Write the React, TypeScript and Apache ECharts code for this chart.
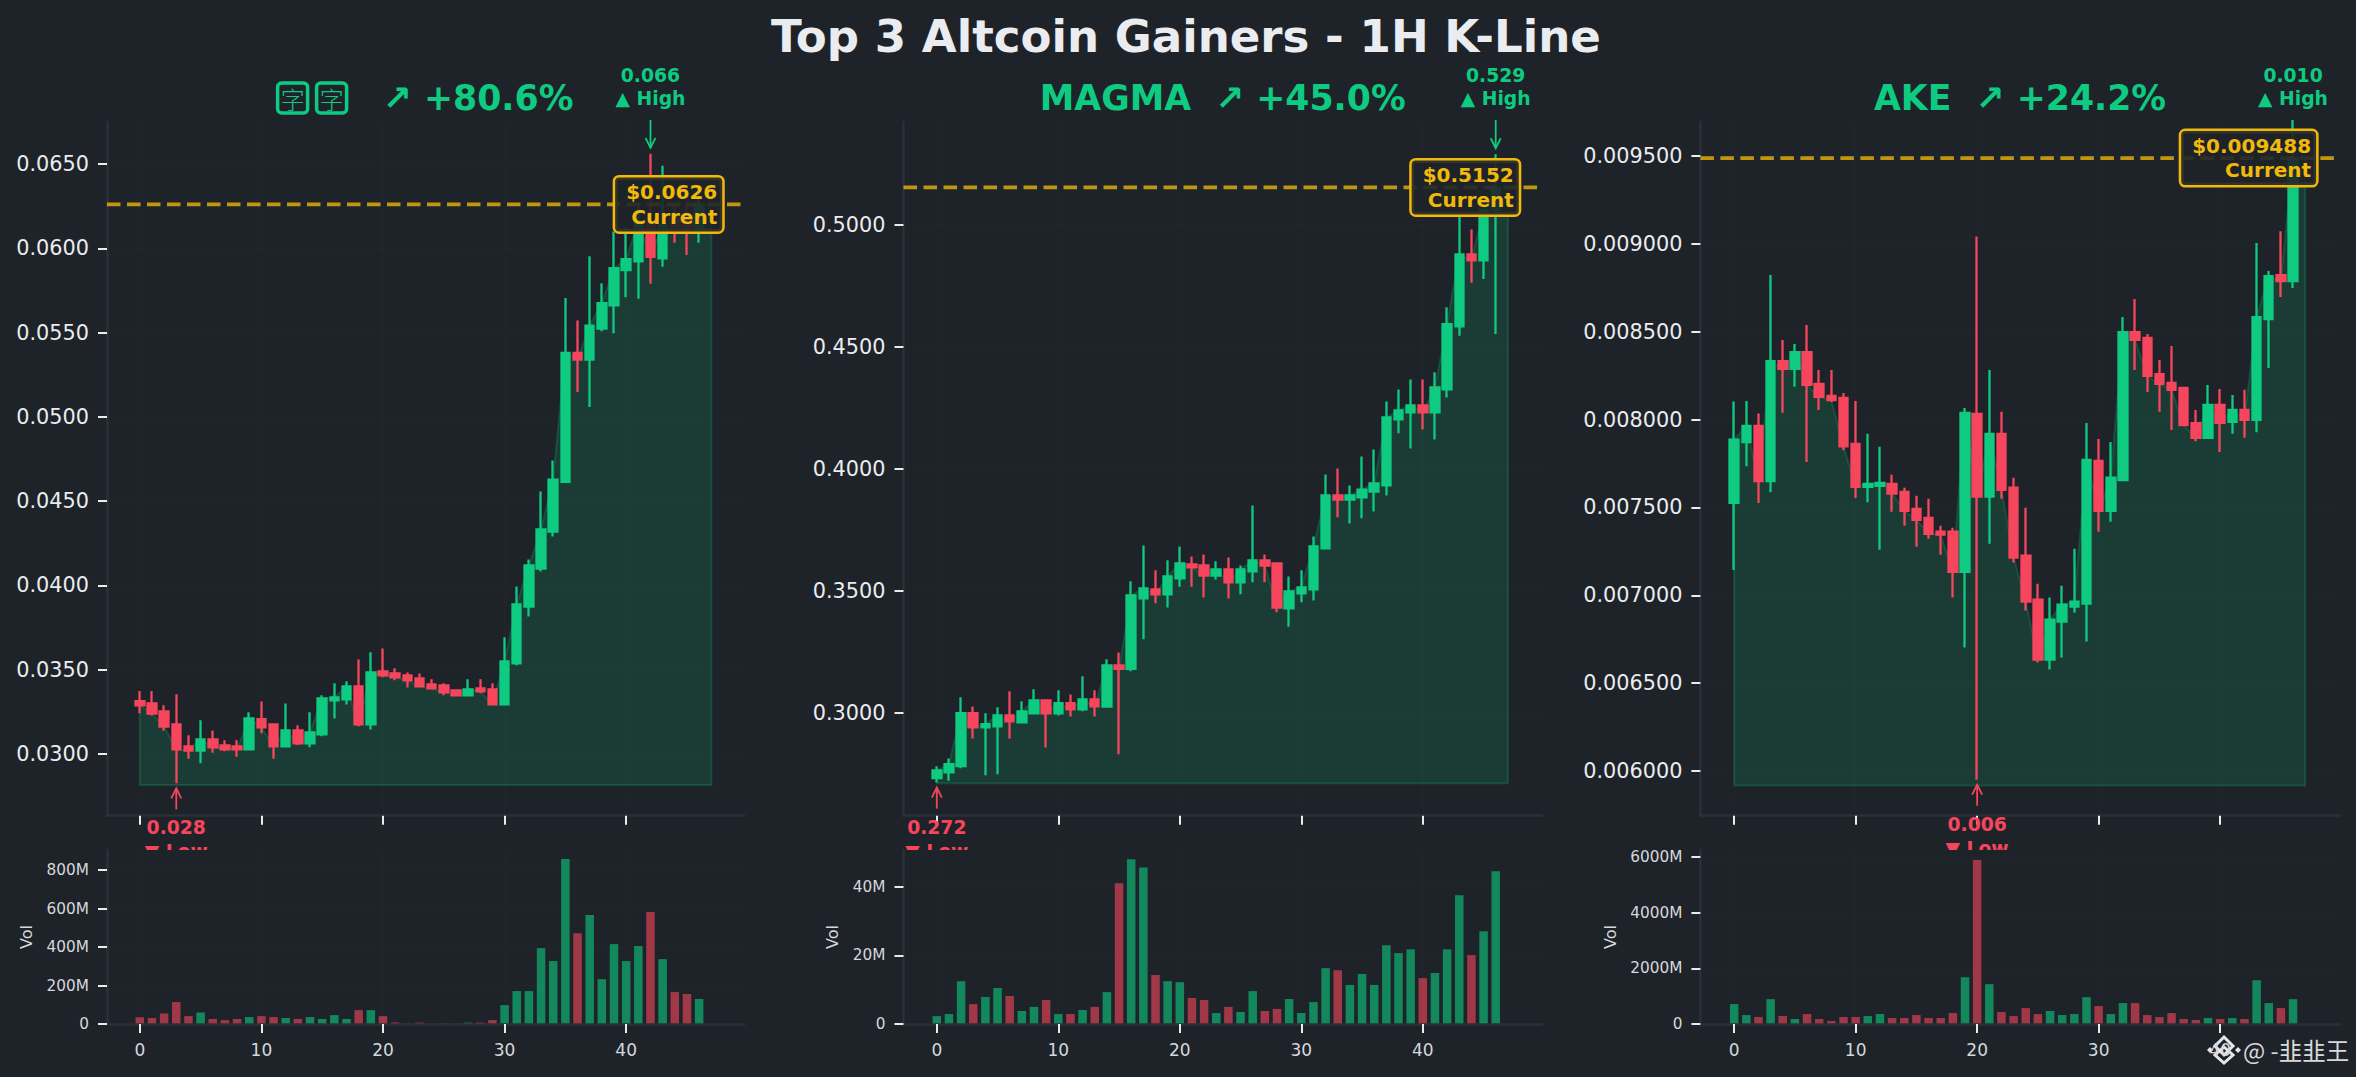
import React, { useEffect, useRef } from "react";
import * as echarts from "echarts";

const FONT = '"DejaVu Sans", "Noto Sans CJK SC", sans-serif';
const BG = "#1e2329";
const UP = "#0ecb81";
const DOWN = "#f6465d";
const GOLD = "#f0b90b";
const TEXT = "#eaecef";

const xTicks = [0, 10, 20, 30, 40];

// each candle: [open, close, low, high]
const candlesA = [
  [0.03314, 0.03289, 0.03241, 0.03374], [0.033, 0.03239, 0.03229, 0.03374], [0.03253, 0.03162, 0.03138, 0.03289],
  [0.03176, 0.03028, 0.02826, 0.03354], [0.03045, 0.0302, 0.02972, 0.03111], [0.0302, 0.03087, 0.02945, 0.032],
  [0.03087, 0.0304, 0.03008, 0.0314], [0.03051, 0.03028, 0.03016, 0.03081], [0.03045, 0.03028, 0.02984, 0.03081],
  [0.03028, 0.03211, 0.03028, 0.03247], [0.03206, 0.03158, 0.03123, 0.03312], [0.03176, 0.03045, 0.02972, 0.03176],
  [0.03045, 0.0314, 0.0304, 0.033], [0.0314, 0.03063, 0.03053, 0.0317], [0.03063, 0.03128, 0.0304, 0.03247],
  [0.03117, 0.0333, 0.03105, 0.03348], [0.03318, 0.03336, 0.03211, 0.03419], [0.03324, 0.03401, 0.03294, 0.03431],
  [0.03401, 0.03176, 0.03164, 0.03561], [0.03176, 0.03484, 0.03146, 0.03603], [0.0349, 0.03466, 0.03455, 0.03626],
  [0.03478, 0.03455, 0.03437, 0.03508], [0.03466, 0.03437, 0.03395, 0.03484], [0.03449, 0.03401, 0.03395, 0.03478],
  [0.03413, 0.03389, 0.03383, 0.03443], [0.03407, 0.03366, 0.03348, 0.03419], [0.03377, 0.03348, 0.03342, 0.03383],
  [0.03348, 0.03383, 0.03348, 0.03443], [0.03389, 0.03372, 0.0336, 0.03443], [0.03383, 0.03294, 0.03294, 0.03419],
  [0.03294, 0.03549, 0.03294, 0.03692], [0.03538, 0.03887, 0.03526, 0.03994], [0.03875, 0.04119, 0.03816, 0.04154],
  [0.041, 0.04332, 0.04083, 0.04557], [0.0432, 0.04628, 0.0429, 0.04741], [0.04615, 0.0538, 0.0461, 0.05705],
  [0.0538, 0.05339, 0.05148, 0.05571], [0.05339, 0.05541, 0.05059, 0.05953], [0.05524, 0.05675, 0.05508, 0.05793],
  [0.05661, 0.05882, 0.05496, 0.061], [0.0587, 0.05935, 0.05709, 0.06126], [0.05923, 0.0616, 0.057, 0.0625],
  [0.0615, 0.05949, 0.0579, 0.0656], [0.0594, 0.0614, 0.0589, 0.0649], [0.0618, 0.061, 0.06033, 0.0625],
  [0.0619, 0.061, 0.0596, 0.0628], [0.061, 0.0626, 0.06033, 0.0635],
];
const volumesA = [
  35, 31, 55, 114, 41, 60, 26, 20, 26, 36, 41, 36, 31, 26, 36, 26, 46, 26, 72, 72, 41, 8, 2, 7,
  2, 2, 2, 7, 7, 20, 98, 171, 171, 394, 327, 857, 472, 566, 233, 415, 327, 405, 582, 337, 166, 156, 130,
];

const candlesB = [
  [0.2733, 0.2765, 0.2715, 0.2782], [0.2757, 0.279, 0.2723, 0.2814], [0.2782, 0.2999, 0.2774, 0.3064],
  [0.2999, 0.2941, 0.2896, 0.3027], [0.2941, 0.2954, 0.2745, 0.2999], [0.2945, 0.299, 0.2749, 0.3023],
  [0.299, 0.2966, 0.2896, 0.3089], [0.2962, 0.3007, 0.2962, 0.3048], [0.2999, 0.3052, 0.2995, 0.3097],
  [0.3052, 0.2999, 0.2859, 0.3056], [0.2999, 0.304, 0.299, 0.3093], [0.304, 0.3015, 0.2986, 0.3076],
  [0.3015, 0.3056, 0.3007, 0.315], [0.3056, 0.3027, 0.2986, 0.3093], [0.3026, 0.3195, 0.3023, 0.322],
  [0.3195, 0.3181, 0.2831, 0.3248], [0.3181, 0.3482, 0.3171, 0.3539], [0.3469, 0.351, 0.3302, 0.3686],
  [0.3506, 0.3486, 0.3449, 0.3584], [0.3486, 0.3559, 0.3432, 0.3625], [0.3551, 0.3613, 0.3517, 0.3682],
  [0.3608, 0.3596, 0.3517, 0.3641], [0.3604, 0.3563, 0.3473, 0.3649], [0.3563, 0.3588, 0.3547, 0.3621],
  [0.3588, 0.3535, 0.3469, 0.3637], [0.3535, 0.3588, 0.3486, 0.3604], [0.358, 0.3625, 0.3535, 0.385],
  [0.3625, 0.3604, 0.3535, 0.3649], [0.3613, 0.3432, 0.3412, 0.3617], [0.3428, 0.3498, 0.3353, 0.3559],
  [0.349, 0.3514, 0.3453, 0.3584], [0.3506, 0.3682, 0.3461, 0.3723], [0.3674, 0.3891, 0.3674, 0.3977],
  [0.3891, 0.3874, 0.3801, 0.4001], [0.3874, 0.3891, 0.3776, 0.3932], [0.3883, 0.3915, 0.3797, 0.405],
  [0.3907, 0.394, 0.3825, 0.4079], [0.3932, 0.421, 0.3891, 0.4276], [0.4202, 0.4239, 0.4145, 0.4325],
  [0.4231, 0.426, 0.4083, 0.4366], [0.426, 0.4231, 0.4161, 0.4366], [0.4231, 0.4333, 0.412, 0.4395],
  [0.4325, 0.4592, 0.4292, 0.4661], [0.4583, 0.4878, 0.4545, 0.505], [0.4878, 0.4853, 0.4762, 0.498],
  [0.4853, 0.506, 0.4777, 0.509], [0.506, 0.5152, 0.4552, 0.5288],
];
const volumesB = [
  2.3, 2.9, 12.5, 5.8, 7.9, 10.5, 8.2, 3.8, 5, 7, 2.9, 2.9, 4.1, 5, 9.3, 41.1, 48.1, 45.7, 14.3, 12.5, 12.2, 7.6, 7, 3.2,
  5, 3.5, 9.6, 3.8, 4.4, 7.3, 3.2, 6.4, 16.3, 15.7, 11.4, 14.6, 11.4, 23, 20.7, 21.8, 13.4, 14.9, 21.8, 37.6, 20.1, 27.1, 44.6,
];

const candlesC = [
  [0.007526, 0.007886, 0.007144, 0.008102], [0.007871, 0.007964, 0.007735, 0.008106], [0.007964, 0.00765, 0.007525, 0.008034],
  [0.00765, 0.008333, 0.007587, 0.008822], [0.008333, 0.008288, 0.008038, 0.008453], [0.008288, 0.008384, 0.008186, 0.00843],
  [0.008384, 0.008197, 0.007759, 0.008538], [0.008203, 0.008129, 0.008055, 0.008282], [0.008134, 0.00811, 0.0081, 0.008282],
  [0.008123, 0.007848, 0.007826, 0.008151], [0.007862, 0.007617, 0.007553, 0.008106], [0.007617, 0.007634, 0.00753, 0.007919],
  [0.007623, 0.00764, 0.007259, 0.007845], [0.007634, 0.007578, 0.007475, 0.007686], [0.007589, 0.007481, 0.007396, 0.007612],
  [0.007492, 0.00743, 0.007276, 0.007566], [0.007441, 0.00735, 0.007322, 0.007549], [0.007362, 0.007345, 0.007231, 0.007396],
  [0.007362, 0.007134, 0.006987, 0.007384], [0.007134, 0.008038, 0.006703, 0.008066], [0.008032, 0.007561, 0.005951, 0.009042],
  [0.007561, 0.007919, 0.007294, 0.008282], [0.007919, 0.0076, 0.007549, 0.008044], [0.007612, 0.007214, 0.007186, 0.007669],
  [0.007225, 0.006964, 0.006913, 0.007498], [0.006975, 0.006634, 0.006617, 0.007066], [0.006634, 0.006862, 0.006578, 0.006987],
  [0.00685, 0.006947, 0.006646, 0.007055], [0.006936, 0.006964, 0.006901, 0.007265], [0.006953, 0.007771, 0.006737, 0.007981],
  [0.007765, 0.007481, 0.007362, 0.00789], [0.007481, 0.007669, 0.007419, 0.007872], [0.007655, 0.008498, 0.007655, 0.008583],
  [0.008498, 0.008453, 0.008282, 0.008686], [0.008464, 0.008248, 0.008157, 0.008487], [0.008259, 0.008203, 0.008044, 0.008339],
  [0.008208, 0.008169, 0.007941, 0.008419], [0.00818, 0.007968, 0.007962, 0.008186], [0.007979, 0.007896, 0.007877, 0.008055],
  [0.007896, 0.008083, 0.007896, 0.008197], [0.008083, 0.007981, 0.007816, 0.008174], [0.007987, 0.008055, 0.007919, 0.00814],
  [0.008055, 0.007998, 0.007896, 0.008169], [0.007998, 0.008583, 0.007928, 0.009004], [0.008572, 0.008816, 0.008294, 0.008845],
  [0.008822, 0.008788, 0.008697, 0.009072], [0.008788, 0.009488, 0.008748, 0.009705],
];
const volumesC = [
  714, 321, 250, 893, 286, 179, 357, 179, 107, 250, 250, 286, 357, 214, 214, 321, 214, 214, 393, 1679, 5893, 1429, 429, 286,
  571, 357, 464, 321, 357, 964, 643, 357, 750, 750, 321, 250, 393, 179, 143, 214, 179, 214, 179, 1571, 750, 571, 893,
];

const panelA = {
  name: ["字", "字"], gain: "↗ +80.6%", candles: candlesA, volumes: volumesA, current: 0.0626, currentLabel: "$0.0626",
  high: [42, 0.0656, "0.066"], low: [3, 0.02826, "0.028"], floor: 0.02816,
  yTicks: [0.03, 0.035, 0.04, 0.045, 0.05, 0.055, 0.06, 0.065], digits: 4, volTicks: [0, 200, 400, 600, 800],
  left: 107, right: 744, xMin: -2.697, xMax: 49.69, yMin: 0.02634, yMax: 0.06749, volMax: 904, volGap: 81,
};
const panelB = {
  name: "MAGMA", gain: "↗ +45.0%", candles: candlesB, volumes: volumesB, current: 0.5152, currentLabel: "$0.5152",
  high: [46, 0.5288, "0.529"], low: [0, 0.2715, "0.272"], floor: 0.2712,
  yTicks: [0.3, 0.35, 0.4, 0.45, 0.5], digits: 4, volTicks: [0, 20, 40],
  left: 903.5, right: 1542, xMin: -2.74, xMax: 49.81, yMin: 0.25794, yMax: 0.542, volMax: 50.8, volGap: 71,
};
const panelC = {
  name: "AKE", gain: "↗ +24.2%", candles: candlesC, volumes: volumesC, current: 0.009488, currentLabel: "$0.009488",
  high: [46, 0.009705, "0.010"], low: [20, 0.005951, "0.006"], floor: 0.005918,
  yTicks: [0.006, 0.0065, 0.007, 0.0075, 0.008, 0.0085, 0.009, 0.0095], digits: 6, volTicks: [0, 2000, 4000, 6000],
  left: 1700.4, right: 2339.7, xMin: -2.78, xMax: 49.84, yMin: 0.005746, yMax: 0.009693, volMax: 6248, volGap: 90,
};
const panels = [panelA, panelB, panelC];

const PRICE_TOP = 122;
const PRICE_H = 693.7;
const VOL_TOP = 850;
const VOL_H = 174;
const TICK_LEN = 9;

function baseAxis(gridIndex: number, extra: any) {
  return {
    gridIndex,
    type: "value",
    scale: true,
    z: 2.5,
    axisLine: { show: true, onZero: false, lineStyle: { color: "#2b3139", width: 2.5 } },
    splitLine: { show: true, lineStyle: { color: "rgba(255,255,255,0.03)", type: "dotted", width: 1 } },
    ...extra,
  };
}

function ticks(customValues: number[]) {
  return { show: true, length: TICK_LEN, customValues, lineStyle: { color: TEXT, width: 2 } };
}

function buildOption() {
  const grid: any[] = [];
  const xAxis: any[] = [];
  const yAxis: any[] = [];
  const series: any[] = [];
  const graphic: any[] = [];

  panels.forEach((p, i) => {
    const gp = i * 2;
    const gv = gp + 1;
    const width = p.right - p.left;
    grid.push({ left: p.left, top: PRICE_TOP, width, height: PRICE_H });
    grid.push({ left: p.left, top: VOL_TOP, width, height: VOL_H });

    xAxis.push(baseAxis(gp, {
      min: p.xMin, max: p.xMax,
      axisTick: ticks(xTicks),
      axisLabel: { show: false },
    }));
    xAxis.push(baseAxis(gv, {
      z: 6, min: p.xMin, max: p.xMax,
      axisTick: ticks(xTicks),
      axisLabel: { show: true, customValues: xTicks, color: "#d5d8dc", fontFamily: FONT, fontSize: 17, margin: 17 },
    }));
    yAxis.push(baseAxis(gp, {
      min: p.yMin, max: p.yMax,
      axisTick: ticks(p.yTicks),
      axisLabel: {
        show: true, customValues: p.yTicks, color: TEXT, fontFamily: FONT, fontSize: 20.8, margin: 18,
        formatter: (v: number) => v.toFixed(p.digits),
      },
    }));
    yAxis.push(baseAxis(gv, {
      z: 6, min: 0, max: p.volMax,
      name: "Vol", nameLocation: "middle", nameGap: p.volGap - 8,
      nameTextStyle: { color: "#d5d8dc", fontFamily: FONT, fontSize: 16 },
      axisTick: ticks(p.volTicks),
      axisLabel: {
        show: true, customValues: p.volTicks, color: "#d5d8dc", fontFamily: FONT, fontSize: 15.3, margin: 18,
        formatter: (v: number) => (v === 0 ? "0" : `${v}M`),
      },
    }));

    const closes = p.candles.map((c, k) => [k, c[1]]);
    const fillPts = [...closes, [47, p.current], [47, p.floor], [0, p.floor]];
    series.push({
      type: "custom", xAxisIndex: gp, yAxisIndex: gp, z: 1, silent: true,
      data: [[0, p.floor]], encode: { x: 0, y: 1 },
      renderItem: (_: any, api: any) => ({
        type: "polygon",
        shape: { points: fillPts.map((q) => api.coord(q)) },
        style: { fill: "rgba(14,203,129,0.15)", stroke: "rgba(14,203,129,0.2)", lineWidth: 2 },
      }),
    });
    series.push({
      type: "candlestick", xAxisIndex: gp, yAxisIndex: gp, z: 2, barWidth: 9,
      data: p.candles.map((c, k) => [k, c[0], c[1], c[2], c[3]]),
      itemStyle: { color: UP, color0: DOWN, borderColor: UP, borderColor0: DOWN, borderWidth: 2.3 },
    });
    series.push({
      type: "custom", xAxisIndex: gp, yAxisIndex: gp, z: 3, silent: true,
      data: [[p.high[0], p.high[1]]], encode: { x: 0, y: 1 },
      renderItem: (_: any, api: any) => {
        const hi = api.coord([p.high[0], p.high[1]]);
        const lo = api.coord([p.low[0], p.low[1]]);
        const curL = api.coord([p.xMin, p.current]);
        const curR = api.coord([p.xMax, p.current]);
        const labelAt = api.coord([47.9, p.current]);
        const children: any[] = [
          { type: "line", shape: { x1: curL[0], y1: curL[1], x2: curR[0], y2: curR[1] },
            style: { stroke: "rgba(240,185,11,0.78)", lineWidth: 3.8, lineDash: [13.5, 6.5] } },
          { type: "text", style: {
              text: `${p.currentLabel}\nCurrent`, x: labelAt[0], y: labelAt[1], align: "right", verticalAlign: "middle",
              fill: GOLD, font: `bold 20px ${FONT}`, lineHeight: 24.5, padding: [2.5, 5, 2.5, 11],
              backgroundColor: "rgba(30,35,41,0.9)", borderColor: GOLD, borderWidth: 2.5, borderRadius: 4,
            } },
          { type: "text", style: {
              text: `${p.high[2]}\n▲ High`, x: hi[0], y: 86.5, align: "center", verticalAlign: "middle",
              fill: UP, font: `bold 18.75px ${FONT}`, lineHeight: 23,
            } },
          { type: "text", style: {
              text: `${p.low[2]}\n▼ Low`, x: lo[0], y: lo[1] + 56.5, align: "center", verticalAlign: "middle",
              fill: DOWN, font: `bold 18.75px ${FONT}`, lineHeight: 24,
            } },
          { type: "line", shape: { x1: lo[0], y1: lo[1] + 26, x2: lo[0], y2: lo[1] + 5 }, style: { stroke: DOWN, lineWidth: 1.8 } },
          { type: "polyline", shape: { points: [[lo[0] - 5, lo[1] + 15], [lo[0], lo[1] + 5], [lo[0] + 5, lo[1] + 15]] },
            style: { stroke: DOWN, fill: "none", lineWidth: 1.8 } },
        ];
        const tip = hi[1] - 6;
        if (tip > PRICE_TOP + 5) {
          children.push(
            { type: "line", shape: { x1: hi[0], y1: 120, x2: hi[0], y2: tip }, style: { stroke: UP, lineWidth: 1.8 } },
            { type: "polyline", shape: { points: [[hi[0] - 5, tip - 10], [hi[0], tip], [hi[0] + 5, tip - 10]] },
              style: { stroke: UP, fill: "none", lineWidth: 1.8 } },
          );
        }
        return { type: "group", children };
      },
    });
    series.push({
      type: "bar", xAxisIndex: gv, yAxisIndex: gv, z: 5, barWidth: 8.5,
      data: p.volumes.map((v, k) => ({
        value: [k, v],
        itemStyle: { color: p.candles[k][1] >= p.candles[k][0] ? "rgba(14,203,129,0.6)" : "rgba(246,70,93,0.6)" },
      })),
    });

    // keeps the clipped low label behind the volume panel
    graphic.push({ type: "rect", z: 4, silent: true, shape: { x: p.left, y: VOL_TOP, width, height: VOL_H }, style: { fill: BG } });

    const center = (p.left + p.right) / 2;
    const subtitleFont = { fontFamily: FONT, fontWeight: "bold", fontSize: 34.7 };
    const text = Array.isArray(p.name)
      ? `{t|${p.name[0]}}{g| }{t|${p.name[1]}}{s|   ${p.gain}}`
      : `{s|${p.name}  ${p.gain}}`;
    graphic.push({
      type: "text", z: 7, silent: true, x: center, y: 98,
      style: {
        text, align: "center", verticalAlign: "middle",
        rich: {
          s: { ...subtitleFont, fill: UP },
          g: { width: 9, fontSize: 10 },
          t: {
            fontFamily: '"Noto Sans CJK SC", sans-serif', fontWeight: 300, fontSize: 24, fill: UP,
            width: 30, height: 30, lineHeight: 30, align: "center", verticalAlign: "middle",
            borderColor: UP, borderWidth: 3.5, borderRadius: 4,
          },
        },
      },
    });
  });

  graphic.push({
    type: "text", z: 7, silent: true, x: 1186, y: 36,
    style: { text: "Top 3 Altcoin Gainers - 1H K-Line", align: "center", verticalAlign: "middle",
      fill: TEXT, font: `bold 45.1px ${FONT}` },
  });
  graphic.push({
    type: "text", z: 7, silent: true, x: 2243, y: 1050,
    style: { text: "@ -韭韭王", align: "left", verticalAlign: "middle", fill: "#d9d9d9",
      font: `23.5px "Noto Sans CJK SC", sans-serif` },
  });
  graphic.push({
    type: "group", z: 7, silent: true, x: 2224, y: 1050,
    children: [
      { type: "polygon", shape: { points: [[0, -13], [9, -4], [0, 5], [-9, -4]] }, style: { fill: "none", stroke: "#e6e6e6", lineWidth: 3 } },
      { type: "polygon", shape: { points: [[0, -3], [9, 5], [0, 13], [-9, 5]] }, style: { fill: "none", stroke: "#e6e6e6", lineWidth: 3 } },
      { type: "polygon", shape: { points: [[-14, -3], [-11, 0], [-14, 3], [-17, 0]] }, style: { fill: "#e6e6e6" } },
      { type: "polygon", shape: { points: [[14, -3], [17, 0], [14, 3], [11, 0]] }, style: { fill: "#e6e6e6" } },
    ],
  });

  return { animation: false, backgroundColor: BG, grid, xAxis, yAxis, series, graphic };
}

export default function App() {
  const ref = useRef<HTMLDivElement>(null);
  useEffect(() => {
    document.body.style.margin = "0";
    document.body.style.background = BG;
    const chart = echarts.init(ref.current!, undefined, { renderer: "svg", width: 2356, height: 1077 });
    chart.setOption(buildOption() as any);
    return () => chart.dispose();
  }, []);
  return <div ref={ref} style={{ position: "absolute", left: 0, top: 0, width: 2356, height: 1077 }} />;
}
